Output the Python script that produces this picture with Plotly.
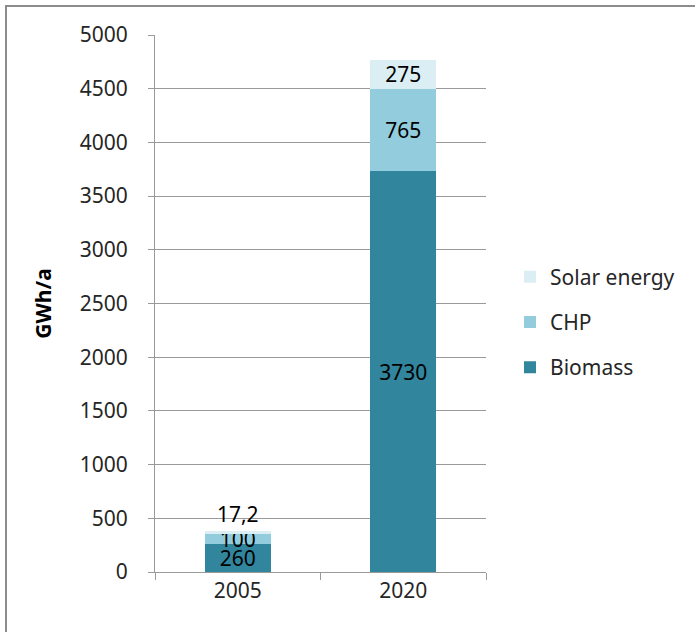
import plotly.graph_objects as go

years = ["2005", "2020"]
biomass = [260, 3730]
chp = [100, 765]
solar = [17.2, 275]
biomass_lbl = ["260", "3730"]
chp_lbl = ["100", "765"]
solar_lbl = ["17,2", "275"]

y_ticks = [0, 500, 1000, 1500, 2000, 2500, 3000, 3500, 4000, 4500, 5000]

FONT = "Noto Sans, Open Sans, sans-serif"
W, H = 695, 632
L, R, T, B = 155, 209, 35, 60
pw, ph = W - L - R, H - T - B

fig = go.Figure()
fig.add_trace(go.Bar(x=years, y=biomass, name="Biomass", marker_color="#31859C",
                     text=biomass_lbl, textposition="inside", insidetextanchor="middle",
                     legendgroup="a", legendrank=3,
                     textfont=dict(color="black", size=21, family=FONT)))
fig.add_trace(go.Bar(x=years, y=chp, name="CHP", marker_color="#93CDDD",
                     text=chp_lbl, textposition="inside", insidetextanchor="middle",
                     legendgroup="b", legendrank=2,
                     textfont=dict(color="black", size=21, family=FONT)))
fig.add_trace(go.Bar(x=years, y=solar, name="Solar energy", marker_color="#DBEEF4",
                     text=solar_lbl, textposition=["outside", "inside"], insidetextanchor="middle",
                     legendgroup="c", legendrank=1,
                     textfont=dict(color="black", size=21, family=FONT)))

fig.update_traces(marker_line_width=0, constraintext="none", cliponaxis=False)

fig.update_layout(
    width=W, height=H,
    margin=dict(l=L, r=R, t=T, b=B, autoexpand=False),
    barmode="stack", bargap=0.6,
    paper_bgcolor="white", plot_bgcolor="white",
    font=dict(family=FONT, size=21, color="#262626"),
    uniformtext=dict(minsize=21, mode="show"),
    showlegend=True,
    legend=dict(x=(510 - L) / pw, xanchor="left", y=1 - (322 - T) / ph, yanchor="middle",
                traceorder="grouped", tracegroupgap=15,
                font=dict(size=21, family=FONT, color="#262626"), bgcolor="rgba(0,0,0,0)"),
    xaxis=dict(showline=True, linecolor="#9a9a9a", linewidth=1, ticks="outside",
               tickson="boundaries", ticklen=7, tickcolor="#9a9a9a", showgrid=False,
               tickfont=dict(size=21, family=FONT, color="#262626")),
    yaxis=dict(range=[0, 5000], tickvals=y_ticks, showline=True, linecolor="#9a9a9a",
               linewidth=1, ticks="outside", ticklen=6, tickcolor="#9a9a9a",
               showgrid=True, gridcolor="#9a9a9a", gridwidth=1, zeroline=False,
               ticklabelstandoff=16,
               tickfont=dict(size=21, family=FONT, color="#262626"),
               title=dict(text="<b>GWh/a</b>", standoff=22,
                          font=dict(size=21, family=FONT, color="black"))),
    shapes=[dict(type="rect", xref="paper", yref="paper",
                 x0=(6 - L) / pw, x1=(W + 20 - L) / pw,
                 y0=-(B + 20) / ph, y1=1 + (T - 6) / ph,
                 line=dict(color="#8c8c8c", width=2), fillcolor="rgba(0,0,0,0)", layer="below")],
)

fig.write_html("out.html")
